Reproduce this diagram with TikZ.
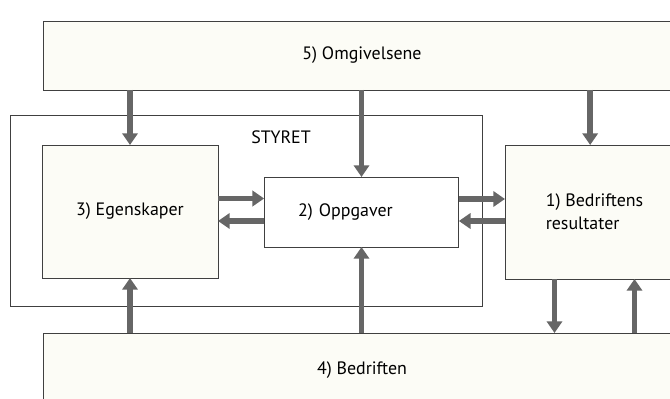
\documentclass[tikz,border=0pt]{standalone}
\usepackage{fontspec}
\setmainfont{PT Sans}
\usetikzlibrary{arrows.meta}
\definecolor{papir}{RGB}{252,252,246}
\tikzset{
  boks/.style={draw=black!75, line width=0.6pt, rectangle, outer sep=0pt,
    fill=papir, font=\fontsize{15.3}{19.6}\selectfont},
  pil/.style={draw=black!60, line width=5pt,
    -{Triangle[width=13pt,length=10pt]}},
}

\begin{document}
\begin{tikzpicture}[x=0.03cm,y=-0.03cm]
\useasboundingbox (0,0) rectangle (670,399);
\clip (0,0) rectangle (670,399);

\node[boks, minimum width=19.14cm, minimum height=2.07cm] (omg) at (362,55.5) {5) Omgivelsene};
\node[boks, fill=none, minimum width=14.16cm, minimum height=5.73cm] (styret) at (246,210.5) {};
\node[font=\fontsize{15.3}{18}\selectfont] (styrettekst) at (281,137) {STYRET};

\node[boks, minimum width=5.28cm, minimum height=3.99cm] (egensk) at (130,211.5) {3) Egenskaper};
\node[boks, fill=white, minimum height=2.1cm, text width=3.8cm, align=left, inner xsep=1.02cm] (oppg) at (361.5,212) {2) Oppgaver};
\node[boks, minimum width=5.37cm, minimum height=4.02cm, align=left] (result) at (594.5,212) {1) Bedriftens\\resultater};
\node[boks, minimum width=19.14cm, minimum height=2.25cm] (bedr) at (362,370.5) {4) Bedriften};

% fra omgivelsene
\draw[pil] (omg.south -| egensk) -- (egensk.north);
\draw[pil] (omg.south -| oppg) -- (oppg.north);
\draw[pil] ([xshift=-0.13cm]omg.south -| result) -- ([xshift=-0.13cm]result.north);

% fra bedriften
\draw[pil] (bedr.north -| egensk) -- (egensk.south);
\draw[pil] (bedr.north -| oppg) -- (oppg.south);
\draw[pil] ([xshift=-1.2cm]result.south) -- ([xshift=-1.2cm]result.south |- bedr.north);
\draw[pil] ([xshift=1.2cm]result.south |- bedr.north) -- ([xshift=1.2cm]result.south);

% mellom boksene
\draw[pil] ([yshift=0.39cm]egensk.east) -- ([yshift=0.39cm]egensk.east -| oppg.west);
\draw[pil] ([yshift=-0.27cm]oppg.west) -- ([yshift=-0.27cm]oppg.west -| egensk.east);
\draw[pil] ([yshift=0.39cm]oppg.east) -- ([yshift=0.39cm]oppg.east -| result.west);
\draw[pil] ([yshift=-0.27cm]result.west) -- ([yshift=-0.27cm]result.west -| oppg.east);

\end{tikzpicture}
\end{document}
